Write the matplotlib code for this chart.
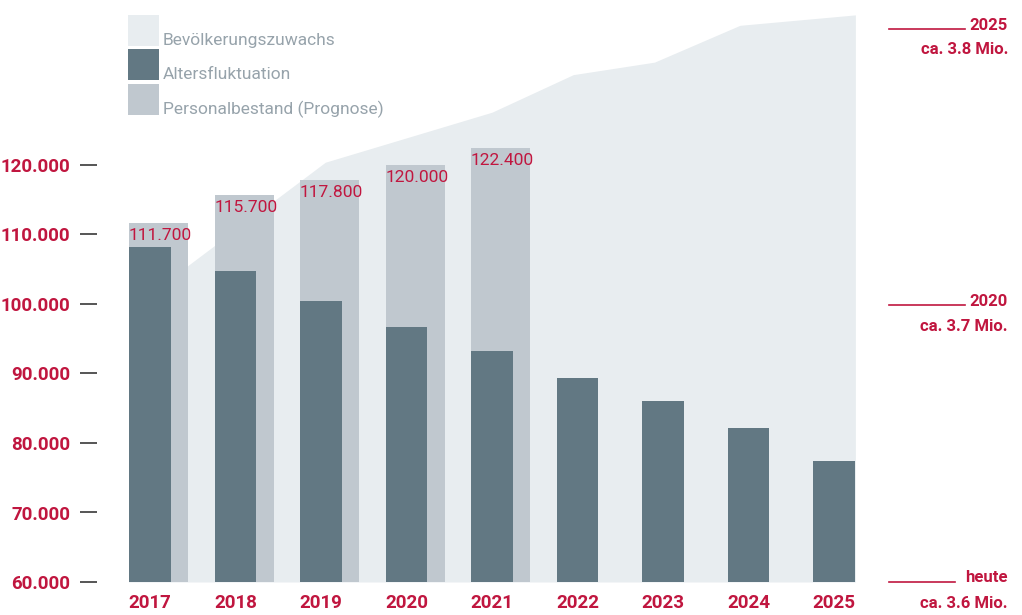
import matplotlib
matplotlib.use("Agg")
import matplotlib.pyplot as plt
from matplotlib.lines import Line2D
from matplotlib.patches import Rectangle
import matplotlib.transforms as mtransforms

# ---------------- data ----------------
years = [2017, 2018, 2019, 2020, 2021, 2022, 2023, 2024, 2025]
altersfluktuation = [108200, 104700, 100400, 96700, 93200, 89400, 86000, 82200, 77400]
bestand_years = [2017, 2018, 2019, 2020, 2021]
personalbestand = [111700, 115700, 117800, 120000, 122400]
bestand_labels = ["111.700", "115.700", "117.800", "120.000", "122.400"]

area_x = [2016.75, 2017.45, 2019.05, 2021.0, 2021.95, 2022.9, 2023.9, 2025.25]
area_vals = [97500, 105600, 120400, 127600, 133000, 134800, 140100, 141600]

yticks = [60000, 70000, 80000, 90000, 100000, 110000, 120000]
ytick_labels = ["60.000", "70.000", "80.000", "90.000", "100.000", "110.000", "120.000"]

pop_values = [3.6, 3.7, 3.8]
pop_titles = ["heute", "2020", "2025"]
pop_labels = ["ca. 3.6 Mio.", "ca. 3.7 Mio.", "ca. 3.8 Mio."]

legend_labels = ["Bevölkerungszuwachs", "Altersfluktuation", "Personalbestand (Prognose)"]

# ---------------- style ----------------
RED = "#c0163f"
DARK = "#627883"
LIGHT = "#c0c8cf"
AREA = "#e8edf0"
LEG_TXT = "#97a3ab"
TICK = "#555555"
pop_line_end = [955, 965, 965]  # pixel x where each red leader line stops

plt.rcParams["font.family"] = ["Roboto", "DejaVu Sans"]

W, H = 1022, 615
fig = plt.figure(figsize=(W / 100, H / 100), dpi=100)
fig.patch.set_facecolor("white")

L, R, B = 97, 880, 582
ax = fig.add_axes([L / W, (H - B) / H, (R - L) / W, B / H])
ax.set_xlim(2017 + (L - 150) / 85.5, 2017 + (R - 150) / 85.5)
ax.set_ylim(60000, 60000 + B / 6.95 * 1000)
for s in ax.spines.values():
    s.set_visible(False)
ax.set_facecolor("none")

# area
ax.fill_between(area_x, 60000, area_vals, color=AREA, lw=0, zorder=1)

# bars
dark_w = 0.49
light_w = 0.69
ax.bar([y - dark_w / 2 for y in bestand_years], [v - 60000 for v in personalbestand],
       bottom=60000, width=light_w, align="edge", color=LIGHT, lw=0, zorder=2)
ax.bar(years, [v - 60000 for v in altersfluktuation], bottom=60000, width=dark_w,
       align="center", color=DARK, lw=0, zorder=3)

for yr, v, lab in zip(bestand_years, personalbestand, bestand_labels):
    ax.annotate(lab, xy=(yr - dark_w / 2, v), xytext=(0, -5), textcoords="offset pixels",
                ha="left", va="top", color=RED, fontsize=12.5, fontweight="normal",
                zorder=4)

# y axis ticks
ax.set_yticks(yticks)
ax.set_yticklabels(ytick_labels)
ax.tick_params(axis="y", length=17 * 0.72, width=1.4, color=TICK, pad=10 * 0.72,
               labelcolor=RED, labelsize=13.5)
for t in ax.get_yticklabels():
    t.set_fontweight("bold")

ax.set_xticks(years)
ax.set_xticklabels([str(y) for y in years])
ax.tick_params(axis="x", length=0, pad=9, labelcolor=RED, labelsize=13.5)
for t in ax.get_xticklabels():
    t.set_fontweight("bold")

# population annotations (secondary scale)
ax2 = ax.twinx()
ax2.set_ylim(3.6, 3.8 + 29 / 2765)
ax2.axis("off")
tr = mtransforms.blended_transform_factory(fig.transFigure, ax2.transData)
for v, t1, t2, xe in zip(pop_values, pop_titles, pop_labels, pop_line_end):
    ax2.add_line(Line2D([889 / W, xe / W], [v, v], transform=tr, color=RED, lw=1.2,
                        clip_on=False))
    ax2.annotate(t1, xy=(1008 / W, v), xycoords=tr, xytext=(0, 4), textcoords="offset pixels",
                 ha="right", va="center", color=RED, fontsize=12, fontweight="bold",
                 annotation_clip=False)
    ax2.annotate(t2, xy=(1008 / W, v), xycoords=tr, xytext=(0, -21), textcoords="offset pixels",
                 ha="right", va="center", color=RED, fontsize=12, fontweight="bold",
                 annotation_clip=False)

# legend
leg_colors = [AREA, DARK, LIGHT]
tops = [15, 49, 84]
for c, lab, top in zip(leg_colors, legend_labels, tops):
    fig.add_artist(Rectangle((128 / W, (H - top - 31) / H), 31 / W, 31 / H,
                             transform=fig.transFigure, color=c, lw=0))
    fig.text(163 / W, (H - top - 30) / H, lab, ha="left", va="baseline",
             color=LEG_TXT, fontsize=12.5, fontweight="normal")

fig.savefig("out.png", dpi=100)
